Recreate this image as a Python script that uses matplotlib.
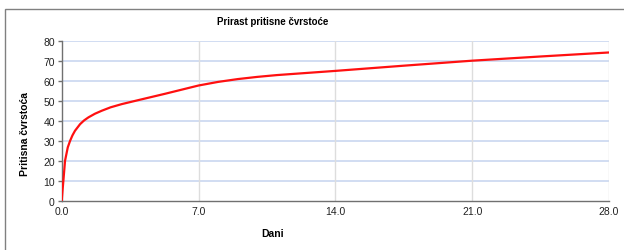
import matplotlib
matplotlib.use("Agg")
import matplotlib.pyplot as plt
from matplotlib.patches import Rectangle

# ocitano sa slike
dani = [0, 0.04, 0.085, 0.17, 0.31, 0.43, 0.55, 0.68, 0.94, 1.15, 1.37, 1.7, 2.05, 2.5,
        3.07, 3.92, 5.3, 7.0, 8.0, 9.0, 10.0, 11.0, 12.0, 14.0, 17.5, 21.0, 24.5, 28.0]
cvrstoca = [0, 5, 10, 20, 26.7, 30, 32.7, 35, 38.3, 40.2, 41.7, 43.5, 45, 46.7,
            48.3, 50.3, 53.5, 57.6, 59.4, 60.8, 61.9, 62.8, 63.5, 64.9, 67.5, 70, 72.1, 74.1]
xticks = [0, 7, 14, 21, 28]
yticks = [0, 10, 20, 30, 40, 50, 60, 70, 80]

plt.rcParams['font.family'] = ['Liberation Sans', 'DejaVu Sans']

fig = plt.figure(figsize=(6.24, 2.51), dpi=100)
ax = fig.add_axes([0.0989, 0.196, 0.976 - 0.0989, 0.834 - 0.196])

# okvir oko grafikona
fig.patches.append(Rectangle((5 / 624, -0.1), 1.1, 1.1 - 9.5 / 251,
                             transform=fig.transFigure, fill=False,
                             edgecolor='#808080', linewidth=1))

ax.plot(dani, cvrstoca, color='#ff1010', linewidth=1.6, zorder=3)

ax.set_xlim(0, 28)
ax.set_ylim(0, 80)
ax.set_xticks(xticks)
ax.set_xticklabels(['{0:.1f}'.format(v) for v in xticks])
ax.set_yticks(yticks)

for v in yticks[1:]:
    ax.axhline(v, color='#c9d7f0', linewidth=1.2, zorder=1)
for v in xticks[1:]:
    ax.axvline(v, color='#dddddd', linewidth=1, zorder=1)

for s in ['top', 'right']:
    ax.spines[s].set_visible(False)
for s in ['left', 'bottom']:
    ax.spines[s].set_color('#707070')
    ax.spines[s].set_linewidth(1)

ax.tick_params(axis='both', labelsize=7.5, colors='#707070', labelcolor='#222222',
               length=3, width=1, pad=2)
ax.tick_params(axis='x', length=0, pad=4)

fig.text(273 / 624, 1 - 22 / 251, 'Prirast pritisne čvrstoće', ha='center', va='center',
         fontsize=7, fontweight='bold')
fig.text(273 / 624, 1 - 234 / 251, 'Dani', ha='center', va='center',
         fontsize=7.5, fontweight='bold')
fig.text(25 / 624, 1 - 134 / 251, 'Pritisna čvrstoća', ha='center', va='center',
         rotation=90, fontsize=7.5, fontweight='bold')

plt.savefig('out.png', dpi=100)
